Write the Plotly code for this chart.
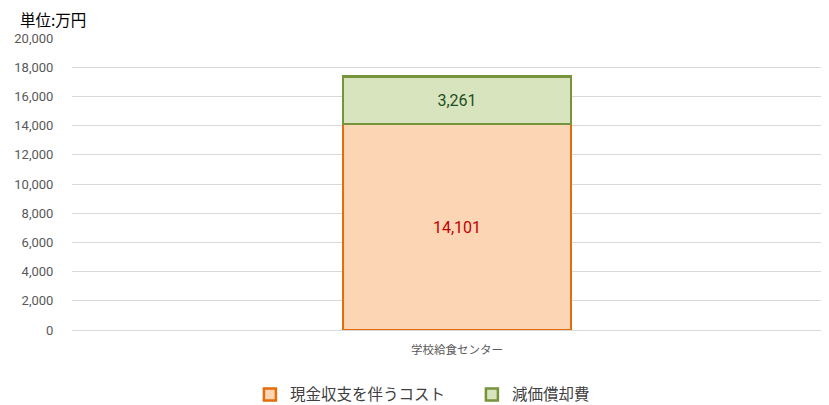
import plotly.graph_objects as go

categories = ["学校給食センター"]
series_names = ["現金収支を伴うコスト", "減価償却費"]
cash_cost = [14101]
depreciation = [3261]
tick_vals = [0, 2000, 4000, 6000, 8000, 10000, 12000, 14000, 16000, 18000, 20000]
tick_text = ["0", "2,000", "4,000", "6,000", "8,000", "10,000", "12,000", "14,000", "16,000", "18,000", "20,000"]

fig = go.Figure()
fig.add_trace(go.Bar(
    x=categories, y=cash_cost, name=series_names[0],
    marker=dict(color="#FCD5B5", line=dict(color="#E46C0A", width=2.5)),
    width=0.301,
    text=[f"{v:,}" for v in cash_cost], textposition="inside", insidetextanchor="middle",
    textfont=dict(color="#C00000", size=16, family="Roboto"),
))
fig.add_trace(go.Bar(
    x=categories, y=depreciation, name=series_names[1],
    marker=dict(color="#D7E4BD", line=dict(color="#77933C", width=2.5)),
    width=0.301,
    text=[f"{v:,}" for v in depreciation], textposition="inside", insidetextanchor="middle",
    textfont=dict(color="#1F4E1F", size=16, family="Roboto"),
))

fig.update_layout(
    barmode="stack",
    width=821, height=397,
    margin=dict(l=64, r=0, t=30, b=75, autoexpand=False),
    plot_bgcolor="white", paper_bgcolor="white",
    font=dict(family="Roboto, Noto Sans CJK JP", color="#595959"),
    xaxis=dict(range=[-0.5086, 0.4914], showgrid=False, showline=True, linecolor="#D9D9D9", linewidth=1,
               tickfont=dict(size=11.5, family="Noto Sans CJK JP", color="#595959"), ticks="outside",
               ticklen=9, tickcolor="rgba(0,0,0,0)", automargin=False),
    yaxis=dict(range=[0, 20000], tickvals=tick_vals, ticktext=tick_text, showgrid=True,
               gridcolor="#D9D9D9", gridwidth=1, zeroline=False, automargin=False,
               tickfont=dict(size=13, family="Roboto", color="#595959"), ticks="outside",
               ticklen=15, tickcolor="rgba(0,0,0,0)"),
    legend=dict(orientation="h", traceorder="normal", xanchor="left", x=0.235, yanchor="middle", y=-0.222,
                font=dict(size=15.5, family="Noto Sans CJK JP", color="#404040"),
                entrywidth=177, itemwidth=30, tracegroupgap=0),
    showlegend=True,
)
fig.add_annotation(text="単位:万円", xref="paper", yref="paper", x=-0.070, y=1.0, yshift=19,
                   xanchor="left", yanchor="middle", showarrow=False, borderpad=0,
                   font=dict(size=15.5, family="Noto Sans CJK JP", color="#000000"))

fig.write_html("out.html")
